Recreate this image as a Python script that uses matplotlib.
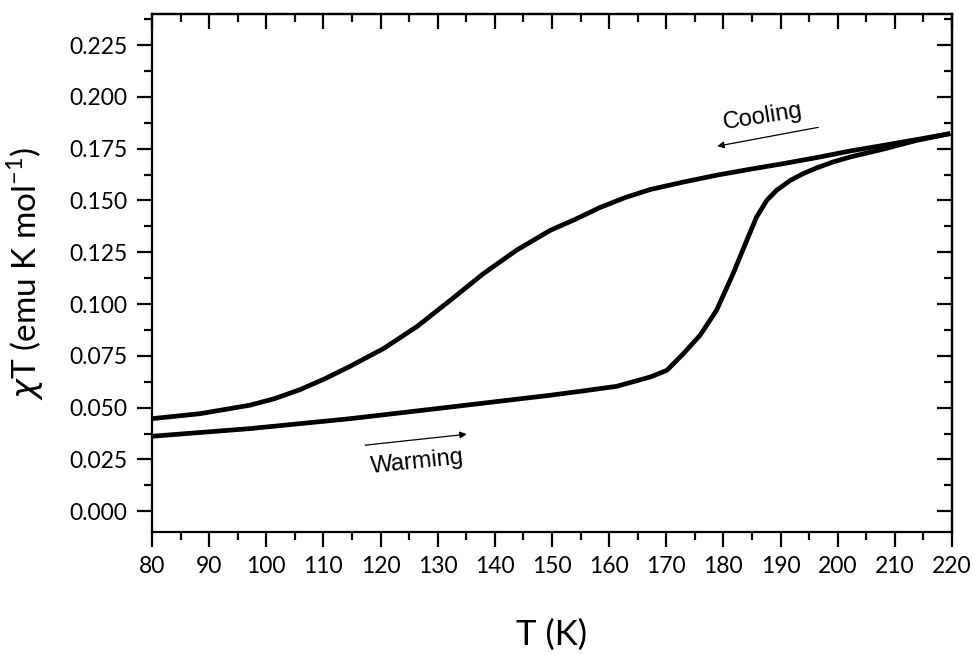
import matplotlib
matplotlib.use('Agg')
import matplotlib.pyplot as plt
from matplotlib.ticker import MultipleLocator, FormatStrFormatter

# cooling branch (upper curve)
cool_T = [80.0, 88.4, 97.15, 101.5, 105.9, 110.3, 114.7, 120.5, 126.3, 132.2, 138.0,
          143.8, 149.7, 154.0, 158.4, 162.8, 167.2, 173.0, 178.8, 184.7, 190.5,
          196.3, 202.2, 208.0, 213.8, 219.7]
cool_chiT = [0.0447, 0.0471, 0.0512, 0.0544, 0.0587, 0.0640, 0.0700, 0.0785, 0.0890, 0.1018, 0.1147,
             0.1260, 0.1356, 0.1408, 0.1466, 0.1514, 0.1553, 0.1589, 0.1622, 0.1651, 0.1678,
             0.1707, 0.1739, 0.1766, 0.1794, 0.1823]

# warming branch (lower curve)
warm_T = [80.0, 97.15, 114.7, 132.2, 149.7, 155.5, 161.3, 167.2, 170.1, 173.0, 175.9,
          178.8, 181.7, 184.1, 185.8, 187.6, 189.3, 191.7, 194.0, 196.3, 199.2,
          202.2, 208.0, 213.8, 219.7]
warm_chiT = [0.0362, 0.0399, 0.0447, 0.0503, 0.0560, 0.0581, 0.0603, 0.0648, 0.0680, 0.0761, 0.0849,
             0.0970, 0.1147, 0.1308, 0.1420, 0.1501, 0.1549, 0.1597, 0.1630, 0.1657, 0.1686,
             0.1710, 0.1748, 0.1790, 0.1823]

fig = plt.figure(figsize=(9.74, 6.55), dpi=100)
ax = fig.add_axes([0.156, 0.1878, 0.8214, 0.7908])

ax.plot(cool_T, cool_chiT, color='black', lw=3.4, solid_joinstyle='round', solid_capstyle='butt')
ax.plot(warm_T, warm_chiT, color='black', lw=3.4, solid_joinstyle='round', solid_capstyle='butt')

ax.set_xlim(80, 220)
ax.set_ylim(-0.01, 0.24)

ax.xaxis.set_major_locator(MultipleLocator(10))
ax.xaxis.set_minor_locator(MultipleLocator(5))
ax.yaxis.set_major_locator(MultipleLocator(0.025))
ax.yaxis.set_minor_locator(MultipleLocator(0.0125))
ax.yaxis.set_major_formatter(FormatStrFormatter('%.3f'))

tick_font = 'Lato'
ax.tick_params(which='both', direction='out', top=False, right=False, width=1.6)
ax.tick_params(which='major', length=11, pad=6.5, labelsize=16.5)
ax.tick_params(which='minor', length=6)
for lab in ax.get_xticklabels() + ax.get_yticklabels():
    lab.set_fontfamily(tick_font)

for s in ax.spines.values():
    s.set_linewidth(1.6)

# top and right get inward ticks without labels
top = ax.secondary_xaxis('top')
top.xaxis.set_major_locator(MultipleLocator(10))
top.xaxis.set_minor_locator(MultipleLocator(5))
top.tick_params(which='both', direction='in', width=1.6, labeltop=False)
top.tick_params(which='major', length=11)
top.tick_params(which='minor', length=6)
top.spines['top'].set_linewidth(1.6)

right = ax.secondary_yaxis('right')
right.yaxis.set_major_locator(MultipleLocator(0.025))
right.yaxis.set_minor_locator(MultipleLocator(0.0125))
right.tick_params(which='both', direction='in', width=1.6, labelright=False)
right.tick_params(which='major', length=11)
right.tick_params(which='minor', length=6)
right.spines['right'].set_linewidth(1.6)

ax.set_xlabel('T (K)', fontsize=25, fontfamily=tick_font)
ax.xaxis.set_label_coords(0.5, -0.168)
ax.set_ylabel(r'$\chi$T (emu K mol$^{\mathregular{-1}}$)', fontsize=24, fontfamily=tick_font)
ax.yaxis.set_label_coords(-0.132, 0.5)

# direction arrows and labels
arrow = dict(arrowstyle='-|>', lw=0.9, color='black', mutation_scale=10, shrinkA=0, shrinkB=0)
ax.annotate('', xy=(178.9, 0.1762), xytext=(196.6, 0.1853), arrowprops=arrow)
ax.text(186.9, 0.1905, 'Cooling', fontsize=17, fontfamily='Liberation Sans',
        rotation=9, ha='center', va='center')
ax.annotate('', xy=(135.1, 0.0372), xytext=(117.3, 0.0319), arrowprops=arrow)
ax.text(126.4, 0.0237, 'Warming', fontsize=17, fontfamily='Liberation Sans',
        rotation=6, ha='center', va='center')

fig.savefig('out.png', dpi=100)
